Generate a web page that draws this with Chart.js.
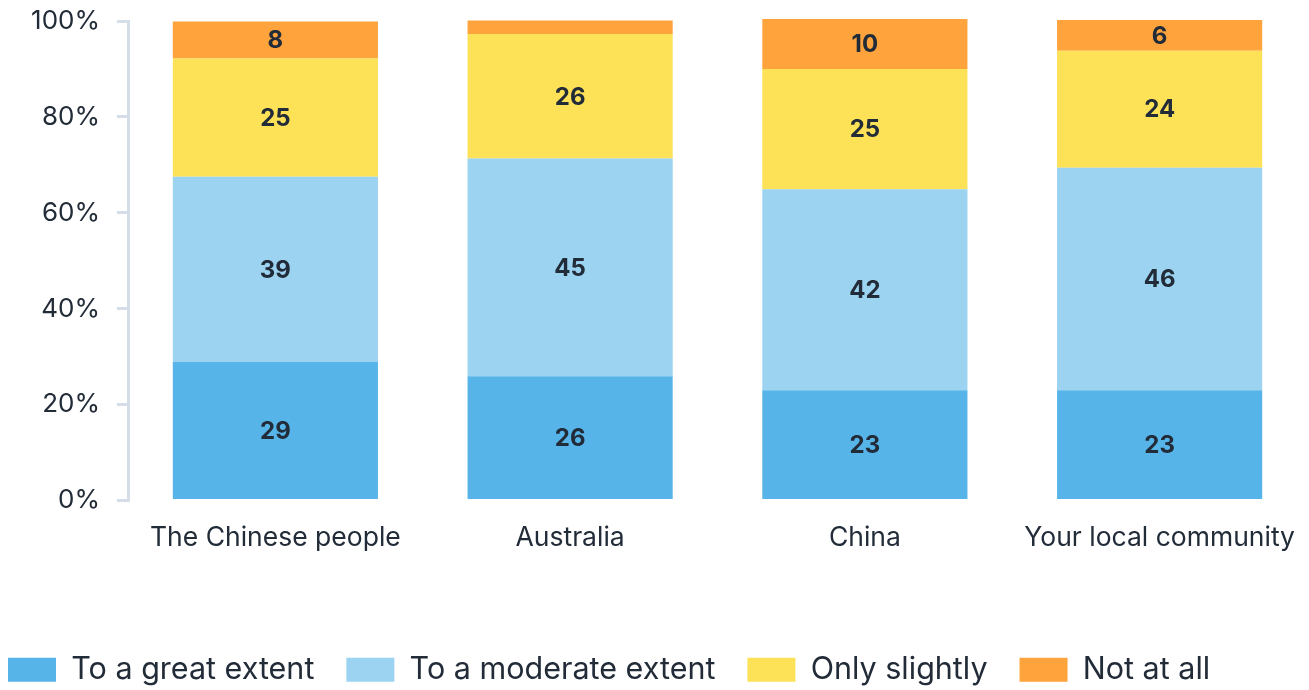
<!DOCTYPE html>
<html>
<head>
<meta charset="utf-8">
<script src="https://cdn.jsdelivr.net/npm/chart.js@4"></script>
<style>
  html, body { margin: 0; padding: 0; background: #fff; overflow: hidden; }
  #wrap { position: absolute; left: -24px; top: 0; width: 1331px; height: 695px; }
</style>
</head>
<body>
<div id="wrap"><canvas id="chart"></canvas></div>
<script>
// categories
const categories = ['The Chinese people', 'Australia', 'China', 'Your local community'];

// series values (%)
const greatExtent = [28.9, 25.9, 23.0, 23.0];
const moderateExtent = [38.6, 45.4, 41.9, 46.4];
const onlySlightly = [24.7, 26.0, 25.1, 24.4];
const notAtAll = [7.7, 2.8, 10.4, 6.4];

const seriesNames = ['To a great extent', 'To a moderate extent', 'Only slightly', 'Not at all'];
const yTicks = [0, 20, 40, 60, 80, 100];

const textColor = '#222b38';
const axisColor = '#d5dee7';

// ========== 数值标签 ==========
const barLabels = {
    id: 'barLabels',
    afterDatasetsDraw(chart) {
        const ctx = chart.ctx;
        ctx.save();
        ctx.font = 'bold 24px Inter';
        ctx.fillStyle = textColor;
        ctx.textAlign = 'center';
        ctx.textBaseline = 'middle';
        chart.data.datasets.forEach((ds, i) => {
            const meta = chart.getDatasetMeta(i);
            meta.data.forEach((bar, j) => {
                const v = ds.data[j];
                if (v < 4) return;
                const p = bar.getProps(['x', 'y', 'base'], true);
                ctx.fillText(Math.round(v), p.x, (p.y + p.base) / 2 + 1);
            });
        });
        ctx.restore();
    }
};

const ctx = document.getElementById('chart').getContext('2d');
new Chart(ctx, {
    type: 'bar',
    data: {
        labels: categories,
        datasets: [
            { label: seriesNames[0], data: greatExtent, backgroundColor: '#57b4e8' },
            { label: seriesNames[1], data: moderateExtent, backgroundColor: '#9bd3f1' },
            { label: seriesNames[2], data: onlySlightly, backgroundColor: '#fde157' },
            { label: seriesNames[3], data: notAtAll, backgroundColor: '#ffa33d' }
        ].map(d => Object.assign(d, { clip: false, borderWidth: 0, categoryPercentage: 1, barPercentage: 0.696 }))
    },
    options: {
        responsive: true,
        maintainAspectRatio: false,
        animation: false,
        layout: { padding: { top: 21, right: 0, left: 0, bottom: 0 } },
        scales: {
            x: {
                stacked: true,
                grid: { display: false },
                border: { display: false },
                ticks: { color: textColor, font: { family: 'Inter', size: 26.5 }, padding: 14 },
                afterFit(scale) {
                    scale.height = 122;
                    scale.paddingRight = 0;
                    scale.paddingLeft = 0;
                }
            },
            y: {
                stacked: true,
                min: 0,
                max: 100,
                afterBuildTicks(scale) { scale.ticks = yTicks.map(v => ({ value: v })); },
                grid: { drawOnChartArea: false, drawTicks: true, tickLength: 11, color: axisColor, lineWidth: 3 },
                border: { display: true, color: axisColor, width: 3 },
                ticks: {
                    color: textColor,
                    font: { family: 'Inter', size: 26 },
                    padding: 17,
                    callback: v => v + '%'
                },
                afterFit(scale) {
                    scale.width = 152;
                    scale.paddingTop = 0;
                    scale.paddingBottom = 0;
                }
            }
        },
        plugins: {
            legend: {
                position: 'bottom',
                align: 'start',
                labels: {
                    boxWidth: 48,
                    boxHeight: 24,
                    padding: 32,
                    color: textColor,
                    font: { family: 'Inter', size: 30.5 }
                }
            },
            tooltip: { enabled: false }
        }
    },
    plugins: [barLabels]
});
</script>
</body>
</html>
